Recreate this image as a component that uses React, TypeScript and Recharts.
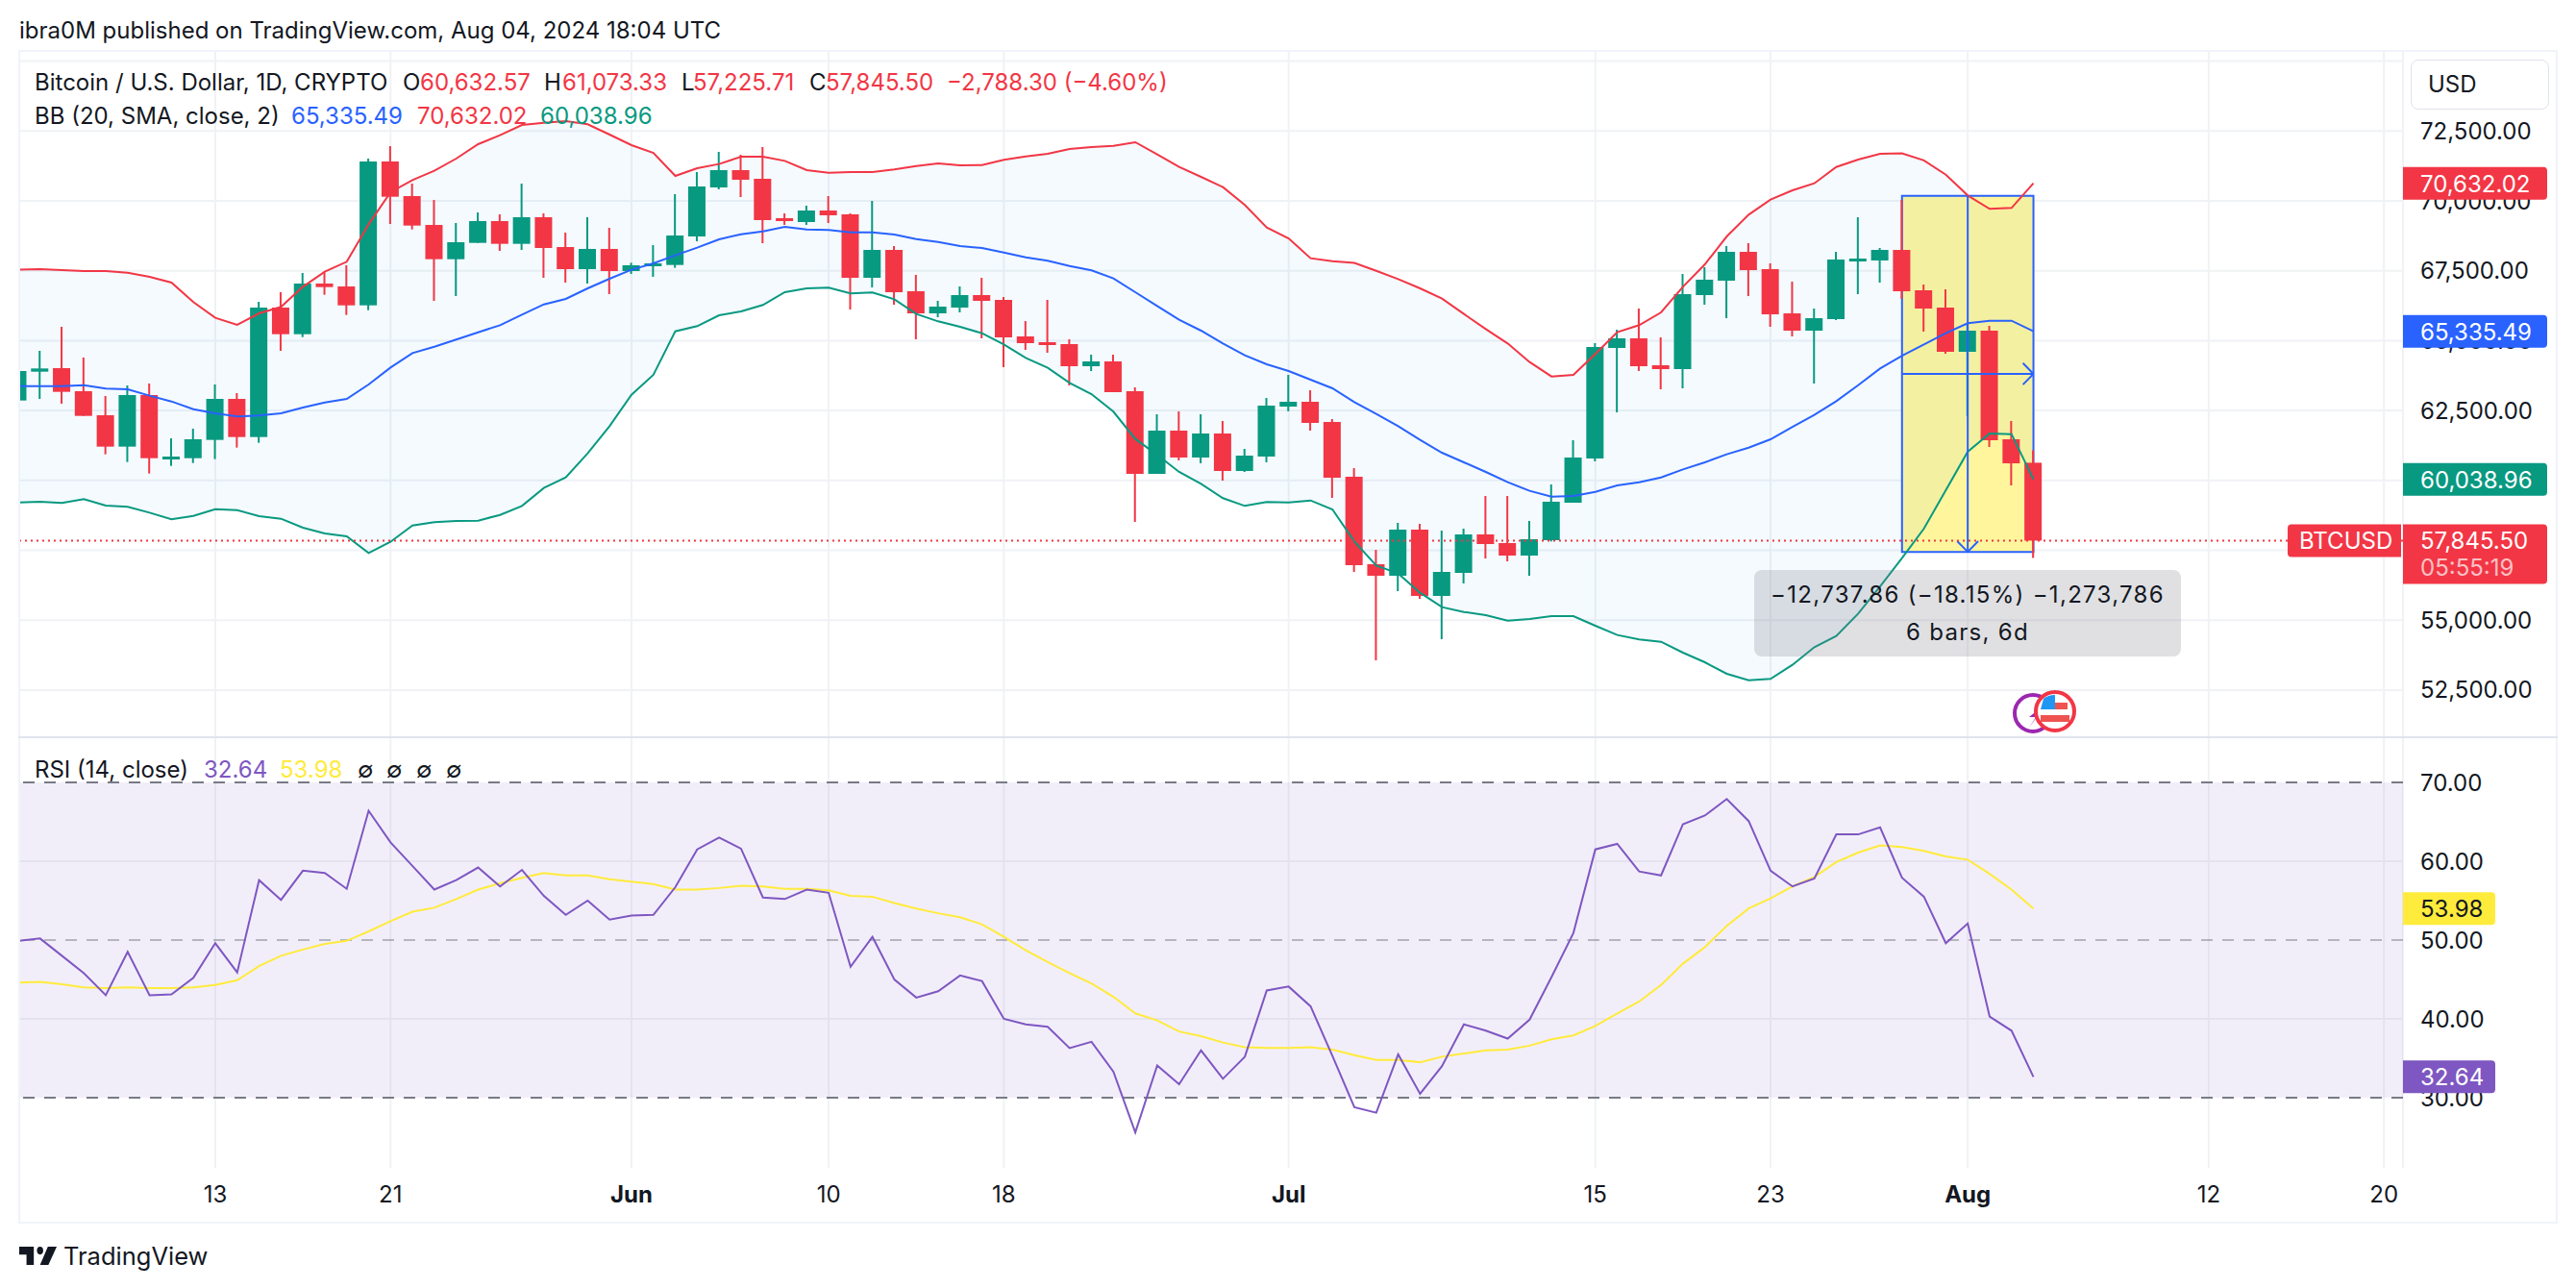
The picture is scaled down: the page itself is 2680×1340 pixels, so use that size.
import React from "react";
import {
  Area,
  Bar,
  CartesianGrid,
  ComposedChart,
  Line,
  ReferenceArea,
  ReferenceLine,
  XAxis,
  YAxis,
} from "recharts";

const FONT = "Inter, 'Noto Sans', sans-serif";
const TEXT = "#131722";
const RED = "#f23645";
const GREEN = "#089981";
const BLUE = "#2962ff";
const PURPLE = "#7e57c2";
const YELLOW = "#ffeb3b";
const GRID = "#f0f2f5";

// first bar is 4 May 2024, day 0 is 13 May
const FIRST_DAY = -9;

const opens = [
  62859, 63890, 64016, 63191, 62331, 61208, 63054, 60795, 60795, 61449, 62916, 61552, 66183, 65231, 67043, 66939,
  66263, 71410, 70172, 69140, 67914, 68498, 69278, 68464, 69416, 68349, 67558, 68281, 67490, 67696, 67708, 68728,
  70482, 71101, 70791, 69381, 69244, 69656, 69519, 67249, 68246, 66768, 65977, 66183, 66630, 66458, 65151, 64945,
  64876, 64085, 64257, 63191, 60234, 61781, 60819, 61678, 60337, 60853, 62641, 62813, 62091, 60131, 57001, 56589,
  58239, 55867, 56692, 58067, 57758, 57311, 57861, 59202, 60784, 64739, 65083, 64119, 63982, 66630, 67145, 68177,
  67558, 65976, 65357, 65770, 67879, 67868, 68246, 66802, 66183, 64601, 65357, 61471, 60632.57,
];
const highs = [
  64000, 64636, 65495, 64395, 63019, 63397, 63466, 61506, 61850, 63432, 63122, 66389, 66733, 67421, 67444, 67696,
  71513, 71960, 70619, 70034, 69209, 69587, 69519, 70619, 69553, 68865, 69416, 69037, 67788, 68418, 70241, 71032,
  71754, 71651, 71926, 69553, 69829, 70172, 69553, 70000, 68384, 67352, 66424, 66940, 67249, 66561, 65702, 66458,
  65048, 64498, 64498, 63329, 62366, 62469, 62366, 62125, 61128, 62950, 63776, 63226, 62194, 60440, 57517, 58480,
  58446, 58205, 58274, 59443, 59443, 58549, 59856, 61437, 64911, 65392, 66149, 65117, 67386, 67627, 68384, 68487,
  67765, 67111, 66148, 68177, 69415, 68315, 70034, 67008, 66836, 65633, 65529, 62125, 61073.33,
];
const lows = [
  62700, 62916, 62744, 62308, 60933, 60658, 60245, 60520, 60623, 60761, 61174, 61345, 64636, 65128, 66641, 65919,
  66091, 69175, 68980, 66424, 66596, 68498, 68212, 68246, 67249, 67077, 67043, 66664, 67387, 67283, 67605, 68556,
  70413, 70138, 68487, 69141, 69141, 69209, 66114, 66905, 66286, 65048, 65839, 66011, 65083, 64051, 64670, 64567,
  63398, 63913, 63157, 58515, 60234, 60716, 60612, 59993, 60302, 60647, 62469, 61781, 59374, 56726, 53563, 56038,
  55763, 54319, 56314, 57208, 57104, 56589, 57815, 59202, 60681, 62435, 63914, 63260, 63294, 66286, 65804, 66595,
  65495, 65151, 63466, 65736, 66664, 67077, 66492, 65323, 64532, 62297, 61196, 59821, 57225.71,
];
const closes = [
  63913, 64005, 63168, 62308, 61208, 63054, 60795, 60853, 61472, 62916, 61552, 66183, 65231, 67043, 66916, 66263,
  71410, 70149, 69117, 67914, 68521, 69278, 68464, 69416, 68315, 67558, 68281, 67490, 67696, 67765, 68762, 70516,
  71101, 70757, 69313, 69313, 69656, 69485, 67249, 68246, 66733, 65977, 66218, 66630, 66424, 65117, 64911, 64842,
  64085, 64257, 63157, 60234, 61781, 60819, 61678, 60337, 60887, 62675, 62813, 62057, 60096, 56967, 56589, 58239,
  55867, 56726, 58067, 57723, 57311, 57895, 59237, 60819, 64773, 65083, 64085, 63982, 66664, 67180, 68177, 67524,
  65942, 65357, 65804, 67902, 67936, 68246, 66767, 66148, 64601, 65357, 61437, 60611, 57845.5,
];

const bbUpper = [
  67536, 67559, 67524, 67490, 67490, 67432, 67283, 67077, 66378, 65816, 65564, 65977, 66206, 66928, 67467, 67822,
  69163, 70310, 70745, 71078, 71513, 72029, 72350, 72717, 72797, 72854, 72740, 72373, 71995, 71720, 70894, 71170,
  71319, 71582, 71582, 71433, 71101, 71009, 71032, 71032, 71124, 71250, 71342, 71273, 71284, 71468, 71594, 71685,
  71857, 71926, 71972, 72098, 71663, 71215, 70860, 70493, 69851, 69049, 68659, 67949, 67840, 67780, 67500, 67200,
  66871, 66504, 65954, 65415, 64899, 64235, 63719, 63776, 64521, 65301, 65553, 66011, 66928, 67730, 68727, 69507,
  70046, 70378, 70630, 71215, 71478, 71685, 71700, 71450, 70940, 70195, 69713, 69748, 70632.02,
];
const bbBasis = [
  63375, 63375, 63375, 63409, 63283, 63260, 63031, 62824, 62549, 62400, 62285, 62320, 62400, 62607, 62790, 62916,
  63432, 64039, 64555, 64784, 65037, 65300, 65552, 65931, 66298, 66492, 66871, 67215, 67536, 67765, 68052, 68327,
  68625, 68808, 68911, 69072, 68980, 68957, 68877, 68877, 68797, 68636, 68533, 68384, 68315, 68155, 67983, 67857,
  67673, 67513, 67226, 66733, 66240, 65748, 65358, 64899, 64475, 64154, 63914, 63604, 63295, 62802, 62377, 61942,
  61449, 60990, 60647, 60303, 59936, 59626, 59420, 59443, 59592, 59821, 59936, 60107, 60394, 60646, 60933, 61173,
  61471, 61918, 62342, 62835, 63408, 64001, 64463, 64864, 65266, 65621, 65713, 65713, 65335.49,
];
const bbLower = [
  59213, 59236, 59190, 59328, 59098, 59053, 58846, 58606, 58732, 58972, 58938, 58720, 58629, 58308, 58101, 57998,
  57402, 57803, 58388, 58503, 58548, 58560, 58766, 59087, 59729, 60107, 60967, 61942, 63065, 63776, 65335, 65518,
  65908, 66046, 66275, 66733, 66871, 66894, 66688, 66722, 66481, 65954, 65690, 65495, 65266, 64865, 64383, 64028,
  63489, 63088, 62458, 61483, 60910, 60303, 59878, 59363, 59087, 59225, 59214, 59283, 58961, 57815, 56955, 56669,
  55981, 55465, 55293, 55179, 54984, 55041, 55144, 55144, 54800, 54468, 54308, 54227, 53838, 53493, 53081, 52852,
  52898, 53402, 54032, 54433, 55236, 56210, 57219, 58273, 59649, 61024, 61678, 61655, 60038.96,
];

const rsi = [
  49.9, 50.2, 48, 45.8, 43, 48.5, 43, 43.1, 45.2, 49.6, 45.9, 57.6, 55.1, 58.8, 58.5, 56.5,
  66.4, 62.4, 59.4, 56.4, 57.6, 59.2, 56.8, 58.9, 55.6, 53.2, 55, 52.6, 53.1, 53.2, 56.7, 61.5,
  63, 61.6, 55.4, 55.2, 56.4, 56, 46.6, 50.4, 45, 42.7, 43.5, 45.5, 44.8, 40, 39.3, 39,
  36.3, 37.1, 33.3, 25.6, 34.1, 31.7, 36, 32.4, 35.2, 43.6, 44.1, 41.6, 35.3, 28.8, 28.1, 35.5,
  30.5, 34, 39.3, 38.5, 37.5, 39.9, 45.3, 50.9, 61.5, 62.2, 58.7, 58.2, 64.7, 65.8, 67.9, 65.1,
  58.8, 56.8, 57.8, 63.4, 63.4, 64.3, 57.9, 55.5, 49.6, 52.1, 40.3, 38.5, 32.64,
];
const rsiMa = [
  44.6, 44.7, 44.4, 44, 43.9, 44, 43.9, 43.9, 44, 44.3, 44.9, 46.7, 48, 48.8, 49.5, 49.9,
  51.1, 52.4, 53.6, 54.1, 55.2, 56.4, 57.2, 57.9, 58.5, 58.2, 58.2, 57.7, 57.4, 57.1, 56.4, 56.4,
  56.6, 56.9, 56.8, 56.5, 56.5, 56.3, 55.6, 55.5, 54.7, 54, 53.4, 52.9, 52, 50.4, 48.7, 47.2,
  45.8, 44.5, 42.8, 40.7, 39.8, 38.4, 37.8, 37, 36.4, 36.3, 36.3, 36.4, 36.1, 35.4, 34.8, 34.8,
  34.5, 35.2, 35.6, 36, 36.1, 36.6, 37.4, 37.9, 39.1, 40.7, 42.2, 44.3, 47, 49.1, 51.8, 54,
  55.3, 56.8, 58, 59.9, 61.1, 62, 61.8, 61.3, 60.6, 60.2, 58.4, 56.4, 53.98,
];

const timeTicks = [0, 8, 19, 28, 36, 49, 63, 71, 80, 91, 99];
const timeLabels = ["13", "21", "Jun", "10", "18", "Jul", "15", "23", "Aug", "12", "20"];
const monthLabels = ["Jun", "Jul", "Aug"];
const priceTicks = [52500, 55000, 57500, 60000, 62500, 65000, 67500, 70000, 72500, 75000];
const rsiTicks = [30, 40, 50, 60, 70];

const TIME_DOMAIN = [-8.95, 99.87];
const PRICE_DOMAIN = [50811, 75365];
const RSI_DOMAIN = [21.1, 75.73];
const UNLABELLED_PRICE = 75000; // the USD button sits over this one

// price range tool
const RANGE_X = [77, 83];
const RANGE_Y = [57443, 70181];
const RANGE_MID_X = 80;
const RANGE_MID_Y = 63812;
const HEAD_DAYS = 0.48;
const HEAD_PRICE = 385;

const lastUpper = bbUpper[bbUpper.length - 1];
const lastBasis = bbBasis[bbBasis.length - 1];
const lastLower = bbLower[bbLower.length - 1];
const lastClose = closes[closes.length - 1];
const lastRsi = rsi[rsi.length - 1];
const lastMa = rsiMa[rsiMa.length - 1];

const priceData = opens.map((open, i) => ({
  day: FIRST_DAY + i,
  open,
  high: highs[i],
  low: lows[i],
  close: closes[i],
  upper: bbUpper[i],
  basis: bbBasis[i],
  lower: bbLower[i],
}));
const rsiData = rsi.map((value, i) => ({ day: FIRST_DAY + i, rsi: value, ma: rsiMa[i] }));

function fmtPrice(v: number) {
  return v.toLocaleString("en-US", { minimumFractionDigits: 2, maximumFractionDigits: 2 });
}

function Candle(props: any) {
  const { x, y, width, height, payload } = props;
  if (height == null) return null;
  const { open, high, low, close } = payload;
  const perUnit = height / (high - low || 1);
  const top = y + (high - Math.max(open, close)) * perUnit;
  const bodyH = Math.max(Math.abs(open - close) * perUnit, 3);
  const color = close >= open ? GREEN : RED;
  const cx = x + width / 2;
  return (
    <g>
      <rect x={cx - 1} y={y} width={2} height={height} fill={color} />
      <rect x={x} y={top} width={width} height={bodyH} fill={color} />
    </g>
  );
}

function TimeTick({ x, y, payload }: any) {
  const label = timeLabels[timeTicks.indexOf(payload.value)];
  return (
    <text
      x={x}
      y={y}
      dy={34}
      textAnchor="middle"
      fontFamily={FONT}
      fontSize={24}
      fontWeight={monthLabels.includes(label) ? 700 : 400}
      fill={TEXT}
    >
      {label}
    </text>
  );
}

function AxisTag({ viewBox, text, extra, fill, color = "#fff", w = 150 }: any) {
  const right = viewBox.x + viewBox.width;
  const h = extra ? 62 : 34;
  const top = viewBox.y - 17;
  return (
    <g>
      <path d={`M${right} ${top}h${w - 4}q4 0 4 4v${h - 8}q0 4 -4 4h${4 - w}z`} fill={fill} />
      <text x={right + 18} y={viewBox.y + 9} fontFamily={FONT} fontSize={24} fill={color}>
        {text}
      </text>
      {extra && (
        <text x={right + 18} y={viewBox.y + 37} fontFamily={FONT} fontSize={24} fill="#fff" fillOpacity={0.7}>
          {extra}
        </text>
      )}
    </g>
  );
}

function SymbolTag({ viewBox }: any) {
  const right = viewBox.x + viewBox.width;
  return (
    <g>
      <path d={`M${right - 2} ${viewBox.y - 17}h-114q-4 0 -4 4v26q0 4 4 4h114z`} fill={RED} />
      <text x={right - 108} y={viewBox.y + 9} fontFamily={FONT} fontSize={24} fill="#fff">
        BTCUSD
      </text>
    </g>
  );
}

function PriceChart() {
  const rangeLine = { stroke: BLUE, strokeWidth: 2, ifOverflow: "visible" as const };
  return (
    <ComposedChart
      width={2680}
      height={767}
      data={priceData}
      margin={{ top: 53, right: 20, bottom: 0, left: 20 }}
      style={{ position: "absolute", left: 0, top: 0 }}
    >
      <CartesianGrid stroke={GRID} strokeWidth={2} />
      <XAxis dataKey="day" type="number" hide domain={TIME_DOMAIN} ticks={timeTicks} allowDataOverflow />
      <YAxis
        orientation="right"
        width={160}
        domain={PRICE_DOMAIN}
        ticks={priceTicks}
        allowDataOverflow
        tickLine={false}
        axisLine={false}
        tickMargin={18}
        tickSize={0}
        tickFormatter={(v: number) => (v === UNLABELLED_PRICE ? "" : fmtPrice(v))}
        tick={{ fontFamily: FONT, fontSize: 24, fill: TEXT }}
      />
      <ReferenceArea
        x1={RANGE_X[0]}
        x2={RANGE_X[1]}
        y1={RANGE_Y[0]}
        y2={RANGE_Y[1]}
        fill="#fff59d"
        fillOpacity={1}
        stroke="none"
      />
      <Area
        dataKey={(d: any) => [d.lower, d.upper]}
        stroke="none"
        fill="#2196f3"
        fillOpacity={0.05}
        isAnimationActive={false}
        dot={false}
        activeDot={false}
      />
      <Line dataKey="upper" stroke={RED} strokeWidth={2} dot={false} isAnimationActive={false} />
      <Line dataKey="basis" stroke={BLUE} strokeWidth={2} dot={false} isAnimationActive={false} />
      <Line dataKey="lower" stroke={GREEN} strokeWidth={2} dot={false} isAnimationActive={false} />
      <ReferenceArea
        x1={RANGE_X[0]}
        x2={RANGE_X[1]}
        y1={RANGE_Y[0]}
        y2={RANGE_Y[1]}
        fill="none"
        stroke={BLUE}
        strokeWidth={2}
      />
      <ReferenceLine {...rangeLine} segment={[{ x: RANGE_X[0], y: RANGE_MID_Y }, { x: RANGE_X[1], y: RANGE_MID_Y }]} />
      <ReferenceLine {...rangeLine} segment={[{ x: RANGE_MID_X, y: RANGE_Y[1] }, { x: RANGE_MID_X, y: RANGE_Y[0] }]} />
      <ReferenceLine {...rangeLine} segment={[{ x: RANGE_X[1], y: RANGE_MID_Y }, { x: RANGE_X[1] - HEAD_DAYS, y: RANGE_MID_Y + HEAD_PRICE }]} />
      <ReferenceLine {...rangeLine} segment={[{ x: RANGE_X[1], y: RANGE_MID_Y }, { x: RANGE_X[1] - HEAD_DAYS, y: RANGE_MID_Y - HEAD_PRICE }]} />
      <ReferenceLine {...rangeLine} segment={[{ x: RANGE_MID_X, y: RANGE_Y[0] }, { x: RANGE_MID_X - HEAD_DAYS, y: RANGE_Y[0] + HEAD_PRICE }]} />
      <ReferenceLine {...rangeLine} segment={[{ x: RANGE_MID_X, y: RANGE_Y[0] }, { x: RANGE_MID_X + HEAD_DAYS, y: RANGE_Y[0] + HEAD_PRICE }]} />
      <ReferenceLine y={lastClose} stroke={RED} strokeWidth={2} strokeDasharray="2 4" />
      <Bar dataKey={(d: any) => [d.low, d.high]} barSize={18} shape={Candle} isAnimationActive={false} />
    </ComposedChart>
  );
}

// axis tags sit over the tick labels, so they get their own layer above the chart
function PriceTags() {
  return (
    <ComposedChart
      width={2680}
      height={767}
      data={priceData}
      margin={{ top: 53, right: 20, bottom: 0, left: 20 }}
      style={{ position: "absolute", left: 0, top: 0 }}
    >
      <XAxis dataKey="day" type="number" hide domain={TIME_DOMAIN} />
      <YAxis orientation="right" width={160} domain={PRICE_DOMAIN} allowDataOverflow tick={false} tickLine={false} axisLine={false} />
      <ReferenceLine y={lastUpper} stroke="none" label={(p: any) => <AxisTag {...p} text={fmtPrice(lastUpper)} fill={RED} />} />
      <ReferenceLine y={lastBasis} stroke="none" label={(p: any) => <AxisTag {...p} text={fmtPrice(lastBasis)} fill={BLUE} />} />
      <ReferenceLine y={lastLower} stroke="none" label={(p: any) => <AxisTag {...p} text={fmtPrice(lastLower)} fill={GREEN} />} />
      <ReferenceLine
        y={lastClose}
        stroke="none"
        label={(p: any) => (
          <g>
            <SymbolTag {...p} />
            <AxisTag {...p} text={fmtPrice(lastClose)} extra="05:55:19" fill={RED} />
          </g>
        )}
      />
    </ComposedChart>
  );
}

function RsiChart() {
  return (
    <ComposedChart
      width={2680}
      height={505}
      data={rsiData}
      margin={{ top: 0, right: 20, bottom: 0, left: 20 }}
      style={{ position: "absolute", left: 0, top: 767 }}
    >
      <CartesianGrid stroke={GRID} strokeWidth={2} horizontalValues={[40, 60]} />
      <XAxis
        dataKey="day"
        type="number"
        domain={TIME_DOMAIN}
        ticks={timeTicks}
        allowDataOverflow
        height={57}
        tickLine={false}
        axisLine={false}
        tickSize={0}
        tick={<TimeTick />}
      />
      <YAxis
        orientation="right"
        width={160}
        domain={RSI_DOMAIN}
        ticks={rsiTicks}
        allowDataOverflow
        tickLine={false}
        axisLine={false}
        tickMargin={18}
        tickSize={0}
        tickFormatter={(v: number) => v.toFixed(2)}
        tick={{ fontFamily: FONT, fontSize: 24, fill: TEXT }}
      />
      <ReferenceArea y1={30} y2={70} fill={PURPLE} fillOpacity={0.1} stroke="none" />
      <ReferenceLine y={70} stroke="#787b86" strokeWidth={2} strokeDasharray="12 10" />
      <ReferenceLine y={50} stroke="#787b86" strokeOpacity={0.5} strokeWidth={2} strokeDasharray="12 10" />
      <ReferenceLine y={30} stroke="#787b86" strokeWidth={2} strokeDasharray="12 10" />
      <Line dataKey="ma" stroke={YELLOW} strokeWidth={2} dot={false} isAnimationActive={false} />
      <Line dataKey="rsi" stroke={PURPLE} strokeWidth={2} dot={false} isAnimationActive={false} />
    </ComposedChart>
  );
}

function RsiTags() {
  return (
    <ComposedChart
      width={2680}
      height={505}
      data={rsiData}
      margin={{ top: 0, right: 20, bottom: 0, left: 20 }}
      style={{ position: "absolute", left: 0, top: 767 }}
    >
      <XAxis dataKey="day" type="number" domain={TIME_DOMAIN} height={57} tick={false} tickLine={false} axisLine={false} />
      <YAxis orientation="right" width={160} domain={RSI_DOMAIN} allowDataOverflow tick={false} tickLine={false} axisLine={false} />
      <ReferenceLine y={lastMa} stroke="none" label={(p: any) => <AxisTag {...p} text={lastMa.toFixed(2)} fill={YELLOW} color={TEXT} w={96} />} />
      <ReferenceLine y={lastRsi} stroke="none" label={(p: any) => <AxisTag {...p} text={lastRsi.toFixed(2)} fill={PURPLE} w={96} />} />
    </ComposedChart>
  );
}

function Txt({ x, y, color = TEXT, size = 24, children }: any) {
  return (
    <div
      style={{
        position: "absolute",
        left: x,
        top: y,
        transform: "translateY(-50%)",
        color,
        fontSize: size,
        fontFamily: FONT,
        whiteSpace: "nowrap",
        lineHeight: 1.2,
      }}
    >
      {children}
    </div>
  );
}

function EventIcons() {
  return (
    <svg width={70} height={56} style={{ position: "absolute", left: 2090, top: 714 }}>
      <circle cx={25} cy={28} r={19} fill="#fff" stroke="#9c27b0" strokeWidth={4} />
      <path d="M36 20l-15 12h8l-8 11" fill="#9c27b0" />
      <circle cx={48} cy={26} r={20} fill="#fff" stroke={RED} strokeWidth={4} />
      <rect x={36} y={17} width={25} height={7} fill="#ef5350" />
      <rect x={33} y={30} width={30} height={7} fill="#ef5350" />
      <path d="M36 13a18 18 0 0 1 12 -4v15h-15z" fill="#2196f3" />
    </svg>
  );
}

function TvLogo() {
  return (
    <svg
      width={39}
      height={19}
      viewBox="0 6 36 14"
      preserveAspectRatio="none"
      style={{ position: "absolute", left: 20, top: 1297 }}
    >
      <path d="M14 6H0v6h7v8h7V6z" fill={TEXT} />
      <circle cx={20} cy={9} r={3} fill={TEXT} />
      <path d="M28 20h-8l7.5-14H36L28 20z" fill={TEXT} />
    </svg>
  );
}

export default function App() {
  const frame = { position: "absolute" as const, background: "#f0f3fa" };
  return (
    <div style={{ position: "absolute", left: 0, top: 0, width: 2680, height: 1340, background: "#fff", overflow: "hidden" }}>
      <PriceChart />
      <RsiChart />
      <PriceTags />
      <RsiTags />

      {/* frame and pane divider */}
      <div style={{ ...frame, left: 19, top: 52, width: 2642, height: 2 }} />
      <div style={{ ...frame, left: 19, top: 1271, width: 2642, height: 2 }} />
      <div style={{ ...frame, left: 19, top: 52, width: 2, height: 1221 }} />
      <div style={{ ...frame, left: 2659, top: 52, width: 2, height: 1221 }} />
      <div style={{ ...frame, left: 19, top: 766, width: 2642, height: 2, background: "#e0e3eb" }} />

      <Txt x={20} y={32}>ibra0M published on TradingView.com, Aug 04, 2024 18:04 UTC</Txt>

      <Txt x={36} y={86}>Bitcoin / U.S. Dollar, 1D, CRYPTO</Txt>
      <Txt x={419} y={86}>O</Txt>
      <Txt x={437} y={86} color={RED}>60,632.57</Txt>
      <Txt x={566} y={86}>H</Txt>
      <Txt x={585} y={86} color={RED}>61,073.33</Txt>
      <Txt x={709} y={86}>L</Txt>
      <Txt x={721} y={86} color={RED}>57,225.71</Txt>
      <Txt x={842} y={86}>C</Txt>
      <Txt x={859} y={86} color={RED}>57,845.50</Txt>
      <Txt x={985} y={86} color={RED}>−2,788.30 (−4.60%)</Txt>

      <Txt x={36} y={121}>BB (20, SMA, close, 2)</Txt>
      <Txt x={303} y={121} color={BLUE}>65,335.49</Txt>
      <Txt x={434} y={121} color={RED}>70,632.02</Txt>
      <Txt x={562} y={121} color={GREEN}>60,038.96</Txt>

      <Txt x={36} y={801}>RSI (14, close)</Txt>
      <Txt x={212} y={801} color={PURPLE}>32.64</Txt>
      <Txt x={291} y={801} color={YELLOW}>53.98</Txt>
      <Txt x={372} y={801}>∅</Txt>
      <Txt x={402} y={801}>∅</Txt>
      <Txt x={433} y={801}>∅</Txt>
      <Txt x={464} y={801}>∅</Txt>

      <div
        style={{
          position: "absolute",
          left: 2508,
          top: 62,
          width: 144,
          height: 52,
          boxSizing: "border-box",
          border: "1px solid #e0e3eb",
          borderRadius: 8,
          background: "#fff",
        }}
      />
      <Txt x={2526} y={88}>USD</Txt>

      {/* measure tool readout */}
      <div
        style={{
          position: "absolute",
          left: 1825,
          top: 593,
          width: 444,
          height: 90,
          borderRadius: 8,
          background: "rgba(120,123,134,0.23)",
          fontFamily: FONT,
          fontSize: 24,
          letterSpacing: 1.3,
          color: TEXT,
          textAlign: "center",
          lineHeight: "39px",
          paddingTop: 6,
          boxSizing: "border-box",
        }}
      >
        <div>−12,737.86 (−18.15%) −1,273,786</div>
        <div>6 bars, 6d</div>
      </div>

      <EventIcons />
      <TvLogo />
      <Txt x={66} y={1307} size={25.5}>TradingView</Txt>
    </div>
  );
}
